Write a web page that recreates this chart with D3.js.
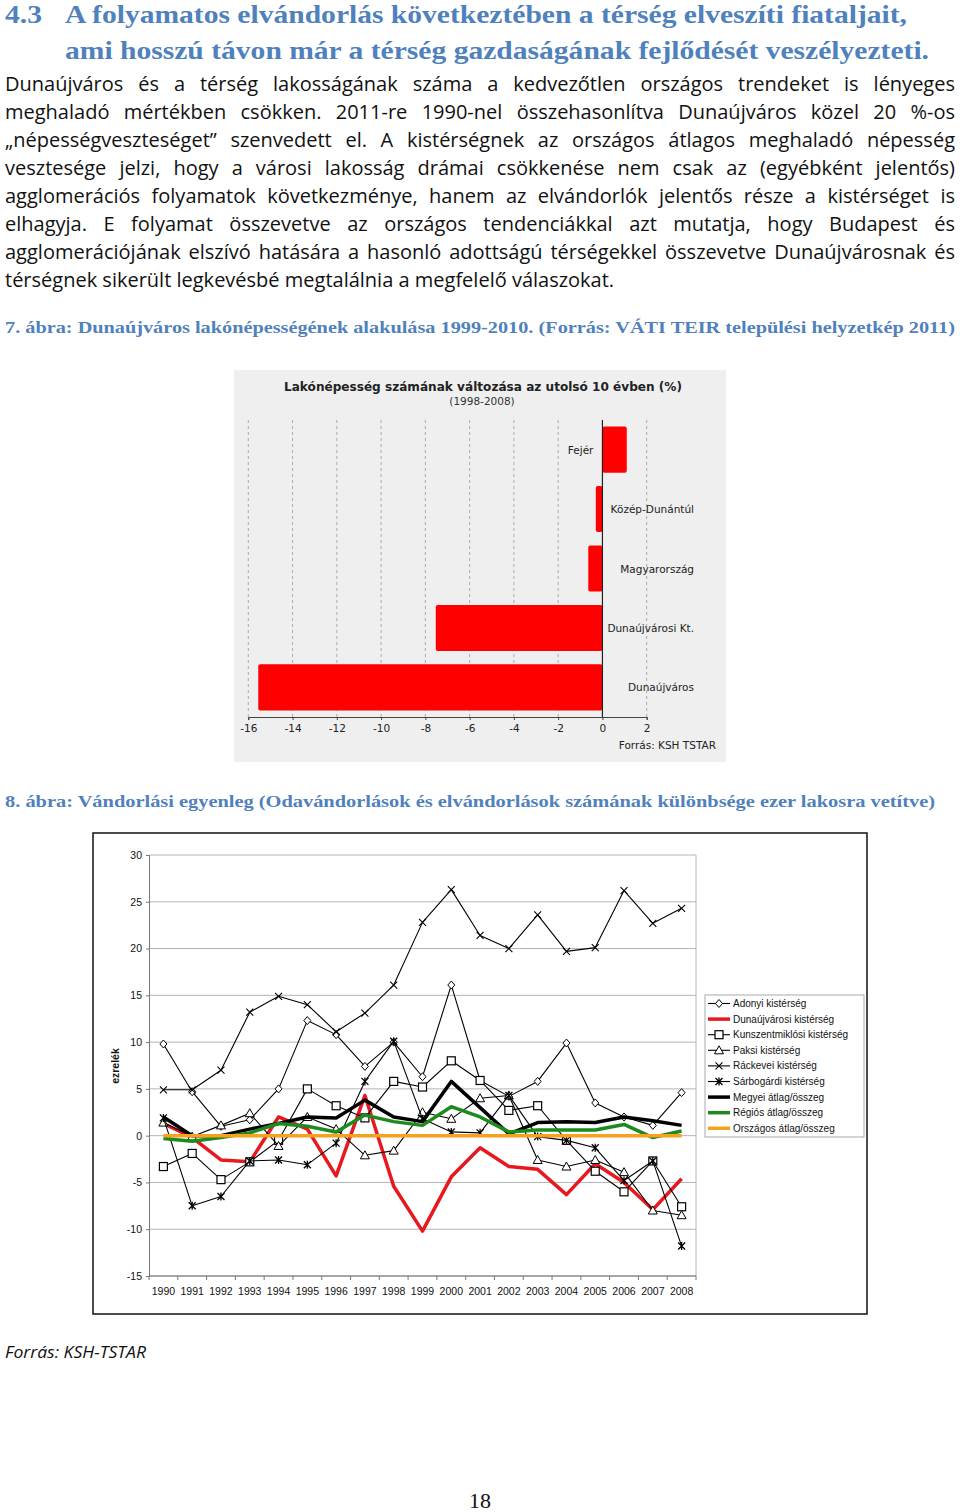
<!DOCTYPE html>
<html><head><meta charset="utf-8">
<script src="https://cdn.jsdelivr.net/npm/d3@7"></script>
<style>body{margin:0;background:#fff}svg{display:block}</style>
</head><body><svg id="page" width="960" height="1512"></svg>
<script>
// ---------- DATA ----------
const headingNumber = "4.3";
const headingLines = ["A folyamatos elvándorlás következtében a térség elveszíti fiataljait,",
  "ami hosszú távon már a térség gazdaságának fejlődését veszélyezteti."];
const bodyLines = [
  "Dunaújváros és a térség lakosságának száma a kedvezőtlen országos trendeket is lényeges",
  "meghaladó mértékben csökken. 2011-re 1990-nel összehasonlítva Dunaújváros közel 20 %-os",
  "„népességveszteséget” szenvedett el. A kistérségnek az országos átlagos meghaladó népesség",
  "vesztesége jelzi, hogy a városi lakosság drámai csökkenése nem csak az (egyébként jelentős)",
  "agglomerációs folyamatok következménye, hanem az elvándorlók jelentős része a kistérséget is",
  "elhagyja. E folyamat összevetve az országos tendenciákkal azt mutatja, hogy Budapest és",
  "agglomerációjának elszívó hatására a hasonló adottságú térségekkel összevetve Dunaújvárosnak és",
  "térségnek sikerült legkevésbé megtalálnia a megfelelő válaszokat."];
const caption7 = "7. ábra: Dunaújváros lakónépességének alakulása 1999-2010. (Forrás: VÁTI TEIR települési helyzetkép 2011)";
const caption8 = "8. ábra: Vándorlási egyenleg (Odavándorlások és elvándorlások számának különbsége ezer lakosra vetítve)";
const sourceNote = "Forrás: KSH-TSTAR";
const pageNumber = "18";

const barTitle = "Lakónépesség számának változása az utolsó 10 évben (%)";
const barSubtitle = "(1998-2008)";
const barSource = "Forrás: KSH TSTAR";
const barCategories = ["Fejér", "Közép-Dunántúl", "Magyarország", "Dunaújvárosi Kt.", "Dunaújváros"];
const barValues = [1.1, -0.3, -0.64, -7.53, -15.55];
const barTicks = [-16, -14, -12, -10, -8, -6, -4, -2, 0, 2];

const years = [1990,1991,1992,1993,1994,1995,1996,1997,1998,1999,2000,2001,2002,2003,2004,2005,2006,2007,2008];
const yTicks = [30, 25, 20, 15, 10, 5, 0, -5, -10, -15];
const yTitle = "ezrelék";
const seriesNames = ["Adonyi kistérség","Dunaújvárosi kistérség","Kunszentmiklósi kistérség","Paksi kistérség",
  "Ráckevei kistérség","Sárbogárdi kistérség","Megyei átlag/összeg","Régiós átlag/összeg","Országos átlag/összeg"];
const adonyi        = [9.8, 4.7, 1.0, 1.7, 5.0, 12.3, 10.8, 7.4, 10.0, 6.3, 16.1, 5.9, 4.2, 5.8, 9.9, 3.5, 2.0, 1.1, 4.6];
const dunaujvarosi  = [1.3, -0.2, -2.6, -2.8, 2.0, 0.7, -4.3, 4.3, -5.4, -10.2, -4.4, -1.3, -3.3, -3.6, -6.3, -3.0, -5.0, -7.9, -4.6];
const kunszentmiklosi = [-3.3, -1.9, -4.7, -2.8, -0.5, 5.0, 3.2, 1.9, 5.8, 5.2, 8.0, 5.9, 2.7, 3.2, -0.5, -3.8, -6.0, -2.7, -7.6];
const paksi         = [1.4, -0.1, 1.1, 2.4, -1.1, 2.0, 0.7, -2.1, -1.6, 2.5, 1.8, 4.0, 4.3, -2.6, -3.3, -2.6, -3.9, -8.0, -8.5];
const rackevei      = [4.9, 4.9, 7.0, 13.2, 14.9, 14.0, 11.1, 13.1, 16.1, 22.8, 26.3, 21.4, 20.0, 23.6, 19.7, 20.1, 26.2, 22.7, 24.3];
const sarbogardi    = [1.9, -7.5, -6.5, -2.7, -2.6, -3.1, -0.8, 5.8, 10.1, 1.8, 0.4, 0.3, 4.3, -0.1, -0.5, -1.3, -4.8, -2.7, -11.8];
const megyei        = [2.0, 0.0, 0.0, 0.7, 1.3, 2.0, 1.9, 3.8, 2.0, 1.5, 5.8, 3.0, 0.2, 1.4, 1.5, 1.4, 2.0, 1.6, 1.1];
const regios        = [-0.3, -0.6, -0.2, 0.3, 1.3, 1.0, 0.4, 2.2, 1.5, 1.1, 3.1, 2.0, 0.4, 0.6, 0.6, 0.6, 1.2, -0.2, 0.5];
const orszagos      = [0, 0, 0, 0, 0, 0, 0, 0, 0, 0, 0, 0, 0, 0, 0, 0, 0, 0, 0];

// ---------- PAGE ----------
const svg = d3.select("#page");
const BLUE = "#4f81bd";
const serif = "'Liberation Serif', 'DejaVu Serif', serif";
const body = "'Open Sans', 'Noto Sans', sans-serif";
const arial = "'Liberation Sans', Arial, sans-serif";
const hyphen = d => (d < 0 ? "-" + Math.abs(d) : String(d));

svg.append("text").attr("x", 5).attr("y", 23).attr("font-family", serif).attr("font-weight", "bold")
  .attr("font-size", 26).attr("fill", BLUE).attr("textLength", 37).attr("lengthAdjust", "spacingAndGlyphs").text(headingNumber);
[[23, 842], [59, 864]].forEach(([y, w], i) => {
  svg.append("text").attr("x", 65).attr("y", y).attr("font-family", serif).attr("font-weight", "bold")
    .attr("font-size", 26).attr("fill", BLUE).attr("textLength", w).attr("lengthAdjust", "spacingAndGlyphs").text(headingLines[i]);
});

// justified body text
function justify(text, x0, x1, y, size, doJustify) {
  const words = text.split(" ");
  const t = svg.append("text").attr("y", y).attr("font-family", body).attr("font-size", size).attr("fill", "#111");
  const widths = words.map(w => { const tmp = t.append("tspan").text(w); const l = tmp.node().getComputedTextLength(); tmp.remove(); return l; });
  const total = d3.sum(widths);
  const sp = t.append("tspan").text("a b"); const spw = sp.node().getComputedTextLength(); sp.remove();
  const a = t.append("tspan").text("ab"); const aw = a.node().getComputedTextLength(); a.remove();
  const gap = doJustify ? (x1 - x0 - total) / (words.length - 1) : (spw - aw);
  let x = x0;
  words.forEach((w, i) => { t.append("tspan").attr("x", x).text(w); x += widths[i] + gap; });
}
const bodyY = [91, 119, 147, 175, 203, 231, 259, 287];
bodyLines.forEach((l, i) => justify(l, 5, 955, bodyY[i], 20, i < bodyLines.length - 1));

svg.append("text").attr("x", 5).attr("y", 333).attr("font-family", serif).attr("font-weight", "bold")
  .attr("font-size", 17.5).attr("fill", BLUE).attr("textLength", 950).attr("lengthAdjust", "spacingAndGlyphs").text(caption7);
svg.append("text").attr("x", 5).attr("y", 807).attr("font-family", serif).attr("font-weight", "bold")
  .attr("font-size", 17.5).attr("fill", BLUE).attr("textLength", 930).attr("lengthAdjust", "spacingAndGlyphs").text(caption8);
svg.append("text").attr("x", 5).attr("y", 1358).attr("font-family", body).attr("font-style", "italic")
  .attr("font-size", 17).attr("fill", "#111").attr("textLength", 141).attr("lengthAdjust", "spacingAndGlyphs").text(sourceNote);
svg.append("text").attr("x", 480).attr("y", 1508).attr("text-anchor", "middle").attr("font-family", serif)
  .attr("font-size", 22).attr("fill", "#111").text(pageNumber);

// ---------- BAR CHART ----------
const bc = svg.append("g");
const dv = "'DejaVu Sans', sans-serif";
bc.append("rect").attr("x", 234).attr("y", 370).attr("width", 492).attr("height", 392).attr("fill", "#efefef");
bc.append("text").attr("x", 483).attr("y", 391).attr("text-anchor", "middle").attr("font-family", dv).attr("font-weight", "bold")
  .attr("font-size", 12.5).attr("fill", "#222").attr("textLength", 398).attr("lengthAdjust", "spacingAndGlyphs").text(barTitle);
bc.append("text").attr("x", 482).attr("y", 405).attr("text-anchor", "middle").attr("font-family", dv)
  .attr("font-size", 10.5).attr("fill", "#333").text(barSubtitle);

const bx = d3.scaleLinear().domain([-16, 2]).range([248.3, 646.7]);
const by = d3.scaleBand().domain(barCategories).range([420, 717]).paddingInner(0.224).paddingOuter(0.11);

bc.selectAll(".grid").data(barTicks.filter(t => t !== 0)).join("line")
  .attr("x1", d => bx(d)).attr("x2", d => bx(d)).attr("y1", 420).attr("y2", 717)
  .attr("stroke", "#aaa").attr("stroke-width", 1).attr("stroke-dasharray", "3,3");

bc.selectAll(".bar").data(barCategories).join("rect")
  .attr("x", (d, i) => Math.min(bx(0), bx(barValues[i])))
  .attr("width", (d, i) => Math.abs(bx(barValues[i]) - bx(0)))
  .attr("y", d => by(d)).attr("height", by.bandwidth())
  .attr("rx", 2).attr("fill", "#ff0000");

bc.append("line").attr("x1", bx(0)).attr("x2", bx(0)).attr("y1", 420).attr("y2", 717).attr("stroke", "#222").attr("stroke-width", 1.2);

const bAxis = bc.append("g").attr("transform", "translate(0,717)")
  .call(d3.axisBottom(bx).tickValues(barTicks).tickSize(3).tickFormat(hyphen));
bAxis.select(".domain").attr("stroke", "#444");
bAxis.selectAll(".tick line").attr("stroke", "#444");
bAxis.selectAll("text").attr("font-family", dv).attr("font-size", 10.5).attr("fill", "#222").attr("dy", "0.9em");

bc.selectAll(".blabel").data(barCategories).join("text")
  .attr("x", (d, i) => barValues[i] >= 0 ? bx(0) - 9 : 694)
  .attr("y", d => by(d) + by.bandwidth() / 2 + 4)
  .attr("text-anchor", "end").attr("font-family", dv).attr("font-size", 10.5).attr("fill", "#222").text(d => d);

bc.append("text").attr("x", 716).attr("y", 749).attr("text-anchor", "end").attr("font-family", dv)
  .attr("font-size", 10.5).attr("fill", "#222").text(barSource);

// ---------- LINE CHART ----------
const lc = svg.append("g");
lc.append("rect").attr("x", 93).attr("y", 833).attr("width", 774).attr("height", 481)
  .attr("fill", "#fff").attr("stroke", "#111").attr("stroke-width", 1.5);

const lx = d3.scaleBand().domain(years).range([149, 696]);
const ly = d3.scaleLinear().domain([-15, 30]).range([1276, 855]);
const cx = d => lx(d) + lx.bandwidth() / 2;

lc.selectAll(".gl").data(yTicks).join("line")
  .attr("x1", 149).attr("x2", 696).attr("y1", d => ly(d)).attr("y2", d => ly(d))
  .attr("stroke", "#b4b4b4").attr("stroke-width", 1);
lc.append("line").attr("x1", 696).attr("x2", 696).attr("y1", 855).attr("y2", 1276).attr("stroke", "#b4b4b4");

const yAx = lc.append("g").attr("transform", "translate(149,0)")
  .call(d3.axisLeft(ly).tickValues(yTicks).tickSize(3).tickPadding(4).tickFormat(hyphen));
yAx.select(".domain").attr("stroke", "#777");
yAx.selectAll(".tick line").attr("stroke", "#777");
yAx.selectAll("text").attr("font-family", arial).attr("font-size", 10.5).attr("fill", "#111");

lc.append("line").attr("x1", 149).attr("x2", 696).attr("y1", 1276).attr("y2", 1276).attr("stroke", "#777");
const edges = years.map(y => lx(y)).concat([lx(years[years.length - 1]) + lx.bandwidth()]);
lc.selectAll(".xt").data(edges).join("line")
  .attr("x1", d => d).attr("x2", d => d).attr("y1", 1276).attr("y2", 1280).attr("stroke", "#777");
lc.selectAll(".xl").data(years).join("text")
  .attr("x", d => cx(d)).attr("y", 1295).attr("text-anchor", "middle")
  .attr("font-family", arial).attr("font-size", 10.5).attr("fill", "#111").text(d => d);

lc.append("text").attr("transform", "translate(119,1066) rotate(-90)").attr("text-anchor", "middle")
  .attr("font-family", arial).attr("font-weight", "bold").attr("font-size", 10.5).attr("fill", "#111").text(yTitle);

const series = [
  {name: seriesNames[0], values: adonyi, color: "#000", w: 1.1, m: "diamond"},
  {name: seriesNames[1], values: dunaujvarosi, color: "#e8191e", w: 3.5, m: null},
  {name: seriesNames[2], values: kunszentmiklosi, color: "#000", w: 1.1, m: "square"},
  {name: seriesNames[3], values: paksi, color: "#000", w: 1.1, m: "triangle"},
  {name: seriesNames[4], values: rackevei, color: "#000", w: 1.1, m: "times"},
  {name: seriesNames[5], values: sarbogardi, color: "#000", w: 1.1, m: "asterisk"},
  {name: seriesNames[6], values: megyei, color: "#000", w: 3.5, m: null},
  {name: seriesNames[7], values: regios, color: "#1d8a1d", w: 3.5, m: null},
  {name: seriesNames[8], values: orszagos, color: "#f5a21e", w: 3.5, m: null}
];

function drawMarker(g, type, x, y) {
  if (type === "diamond") {
    g.append("path").attr("d", `M${x},${y-4}L${x+3.5},${y}L${x},${y+4}L${x-3.5},${y}Z`).attr("fill", "#fff").attr("stroke", "#000").attr("stroke-width", 1);
  } else if (type === "square") {
    g.append("rect").attr("x", x - 4).attr("y", y - 4).attr("width", 8).attr("height", 8).attr("fill", "#fff").attr("stroke", "#000").attr("stroke-width", 1.2);
  } else if (type === "triangle") {
    g.append("path").attr("d", `M${x},${y-4.5}L${x+4.5},${y+3.5}L${x-4.5},${y+3.5}Z`).attr("fill", "#fff").attr("stroke", "#000").attr("stroke-width", 1);
  } else if (type === "times") {
    g.append("path").attr("d", `M${x-3.5},${y-3.5}L${x+3.5},${y+3.5}M${x-3.5},${y+3.5}L${x+3.5},${y-3.5}`).attr("stroke", "#000").attr("stroke-width", 1.1);
  } else if (type === "asterisk") {
    g.append("path").attr("d", `M${x-3.5},${y-3.5}L${x+3.5},${y+3.5}M${x-3.5},${y+3.5}L${x+3.5},${y-3.5}M${x},${y-4}L${x},${y+4}`).attr("stroke", "#000").attr("stroke-width", 1.3);
  }
}

const line = d3.line().x(d => cx(d[0])).y(d => ly(d[1]));
series.forEach(s => {
  const g = lc.append("g");
  const pts = years.map((yr, i) => [yr, s.values[i]]);
  g.append("path").attr("d", line(pts)).attr("fill", "none").attr("stroke", s.color)
    .attr("stroke-width", s.w).attr("stroke-linejoin", "round");
  if (s.m) pts.forEach(p => drawMarker(g, s.m, cx(p[0]), ly(p[1])));
});

// legend
const lg = lc.append("g");
lg.append("rect").attr("x", 705).attr("y", 995).attr("width", 159).attr("height", 142).attr("fill", "#fff").attr("stroke", "#aaa");
series.forEach((s, i) => {
  const y = 1003.5 + i * 15.6;
  lg.append("line").attr("x1", 708).attr("x2", 730).attr("y1", y).attr("y2", y).attr("stroke", s.color).attr("stroke-width", s.w);
  if (s.m) drawMarker(lg, s.m, 719, y);
  lg.append("text").attr("x", 733).attr("y", y + 3.5).attr("font-family", arial).attr("font-size", 10).attr("fill", "#111").text(s.name);
});
</script></body></html>
